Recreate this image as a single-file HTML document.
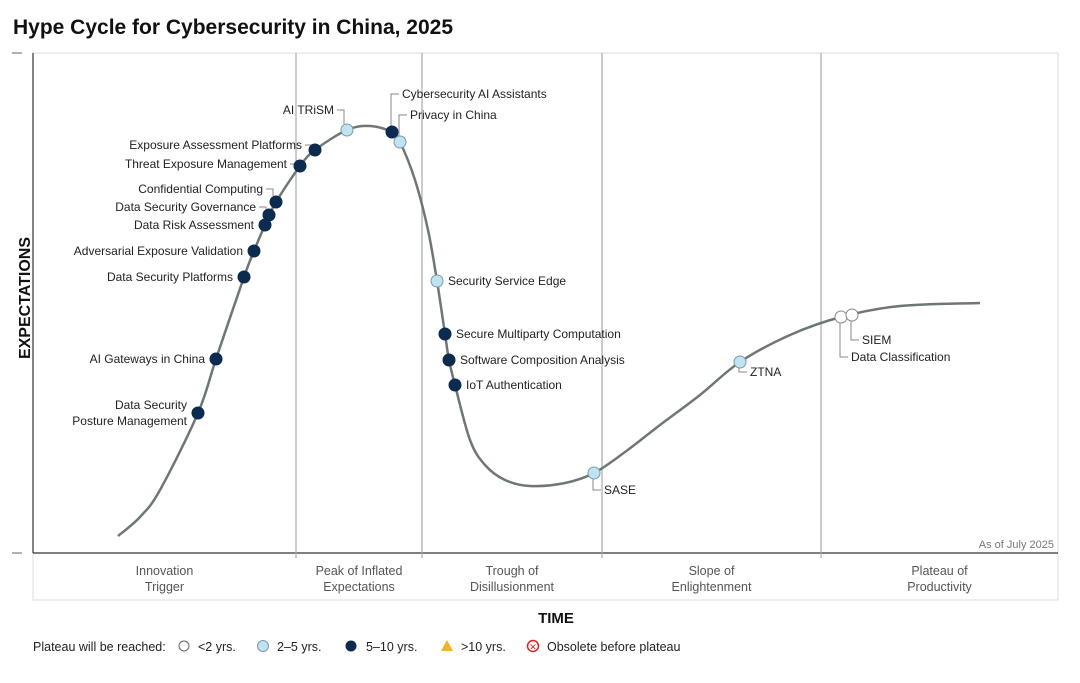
<!DOCTYPE html>
<html><head><meta charset="utf-8">
<style>
body{margin:0;background:#fff;font-family:"Liberation Sans",Arial,sans-serif;}
svg text{font-family:"Liberation Sans",Arial,sans-serif;}
</style></head>
<body>
<svg id="chart" width="1080" height="678" viewBox="0 0 1080 678" xmlns="http://www.w3.org/2000/svg">
<text x="13" y="34" font-size="21" font-weight="bold" fill="#111">Hype Cycle for Cybersecurity in China, 2025</text>
<rect x="33" y="53" width="1025" height="547" fill="none" stroke="#ddd" stroke-width="1"/>
<line x1="33" y1="53" x2="33" y2="553" stroke="#333" stroke-width="1.2"/>
<line x1="33" y1="553" x2="1058" y2="553" stroke="#333" stroke-width="1.2"/>
<line x1="12" y1="53" x2="22" y2="53" stroke="#666"/>
<line x1="12" y1="553" x2="22" y2="553" stroke="#666"/>
<g id="phases"></g>
<g id="curveG"></g>
<g id="pts"></g>
<text x="1054" y="548" font-size="11" fill="#777" text-anchor="end">As of July 2025</text>
<text transform="translate(30,298) rotate(-90)" font-size="16" font-weight="bold" text-anchor="middle" fill="#111">EXPECTATIONS</text>
<text x="556" y="623" font-size="15" font-weight="bold" text-anchor="middle" fill="#111">TIME</text>
<g font-size="12.5" fill="#222">
<text x="33" y="651">Plateau will be reached:</text>
<circle cx="184" cy="646" r="5" fill="#fff" stroke="#666"/>
<text x="198" y="651">&lt;2 yrs.</text>
<circle cx="263" cy="646" r="5.5" fill="#bfe3f0" stroke="#7a9aa8"/>
<text x="277" y="651">2–5 yrs.</text>
<circle cx="351" cy="646" r="5.5" fill="#0d2a4f"/>
<text x="366" y="651">5–10 yrs.</text>
<polygon points="447,640 453,651 441,651" fill="#f0b323"/>
<text x="461" y="651">&gt;10 yrs.</text>
<circle cx="533" cy="646" r="5.5" fill="#fff" stroke="#d22" stroke-width="1.5"/>
<text x="533" y="650" font-size="9" text-anchor="middle" fill="#d22">✕</text>
<text x="547" y="651">Obsolete before plateau</text>
</g>
</svg>
<script>
const NS="http://www.w3.org/2000/svg";
// data: x = time units (0..1025), y = expectation units (0..500)
const curveX=[85,107,127,165,183,211,221,232,243,267,282,314,337,359,367,382,395,404,412,416,422,437,452,472,497,532,561,592,627,667,707,757,808,867,947];
const curveY=[17,36,63,140,194,276,302,328,351,387,403,423,427,421,411,373,323,272,219,193,168,113,88,73,67,70,80,101,128,158,191,218,236,247,250];
const phaseBounds=[263,389,569,788];
const phaseNames=[["Innovation","Trigger"],["Peak of Inflated","Expectations"],["Trough of","Disillusionment"],["Slope of","Enlightenment"],["Plateau of","Productivity"]];
const techNames=["Data Security|Posture Management","AI Gateways in China","Data Security Platforms","Adversarial Exposure Validation","Data Risk Assessment","Data Security Governance","Confidential Computing","Threat Exposure Management","Exposure Assessment Platforms","AI TRiSM","Cybersecurity AI Assistants","Privacy in China","Security Service Edge","Secure Multiparty Computation","Software Composition Analysis","IoT Authentication","SASE","ZTNA","Data Classification","SIEM"];
const techX=[165,183,211,221,232,236,243,267,282,314,359,367,404,412,416,422,561,707,808,819];
const techY=[140,194,276,302,328,338,351,387,403,423,421,411,272,219,193,168,80,191,236,238];
const techCat=[2,2,2,2,2,2,2,2,2,1,2,1,1,2,2,2,1,1,0,0];
const labelSide=["L","L","L","L","L","L","L","L","L","L","R","R","R","R","R","R","R","R","R","R"];
const labelDy=[0,0,0,0,0,8,13,2,5,20,38,27,0,0,0,0,-17,-10,-40,-25];
const X=v=>33+v, Y=v=>553-v;
function mk(tag,attrs,parent){const e=document.createElementNS(NS,tag);for(const k in attrs)e.setAttribute(k,attrs[k]);parent.appendChild(e);return e;}
const ph=document.getElementById('phases');
phaseBounds.forEach((b,i)=>{const l=mk('line',{x1:X(b),y1:53,x2:X(b),y2:558,stroke:'#aaa','stroke-width':1.2},ph);

});
const edges=[0].concat(phaseBounds).concat([1025]);
phaseNames.forEach((n,i)=>{const cx=X((edges[i]+edges[i+1])/2);
n.forEach((s,j)=>{const t=mk('text',{x:cx,y:575+j*16,'font-size':12.5,'text-anchor':'middle',fill:'#555'},ph);t.textContent=s;

});});
const P=curveX.map((x,i)=>[X(x),Y(curveY[i])]);
let d='M'+P[0][0]+','+P[0][1];
for(let i=0;i<P.length-1;i++){const p0=P[Math.max(0,i-1)],p1=P[i],p2=P[i+1],p3=P[Math.min(P.length-1,i+2)];
d+=' C'+(p1[0]+(p2[0]-p0[0])/6)+','+(p1[1]+(p2[1]-p0[1])/6)+' '+(p2[0]-(p3[0]-p1[0])/6)+','+(p2[1]-(p3[1]-p1[1])/6)+' '+p2[0]+','+p2[1];}
const cv=mk('path',{d:d,fill:'none',stroke:'#6f7775','stroke-width':2.5},document.getElementById('curveG'));


const pg=document.getElementById('pts');
const fills=['#ffffff','#bfe3f0','#0d2a4f'],strokes=['#888','#7a9aa8','#0d2a4f'];
techNames.forEach((name,i)=>{const cx=X(techX[i]),cy=Y(techY[i]);
const side=labelSide[i],dy=labelDy[i];const ly=cy-dy;
const lines=name.split('|');
if(dy!==0){
const ln=mk('polyline',{points:(side==='L'?(cx-3)+','+(cy-6)+' '+(cx-3)+','+ly+' '+(cx-10)+','+ly:(cx-1)+','+cy+' '+(cx-1)+','+ly+' '+(cx+7)+','+ly),fill:'none',stroke:'#888','stroke-width':1},pg);

}
const tx=side==='L'?cx-(dy!==0?13:11):cx+(dy!==0?10:11);
lines.forEach((s,j)=>{const t=mk('text',{x:tx,y:ly+4+(j-(lines.length-1)/2)*16,'font-size':12,'text-anchor':side==='L'?'end':'start',fill:'#222'},pg);t.textContent=s;

});
const c=mk('circle',{cx:cx,cy:cy,r:6,fill:fills[techCat[i]],stroke:strokes[techCat[i]],'stroke-width':1},pg);

});
</script>
</body></html>
